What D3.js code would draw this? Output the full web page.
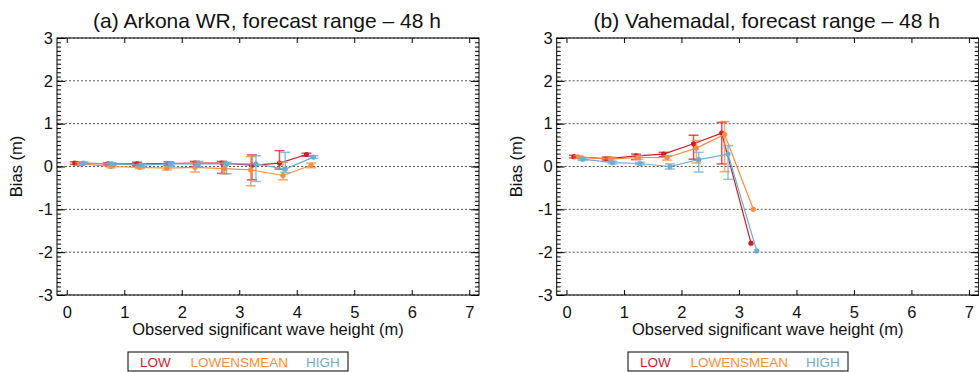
<!DOCTYPE html>
<html lang="en">
<head>
<meta charset="UTF-8">
<script src="https://cdn.jsdelivr.net/npm/d3@7"></script>
<title>Bias vs observed wave height</title>
<style>
  body { margin: 0; background: #fff; }
  svg text { font-family: Arial, "Liberation Sans", sans-serif; fill: #111; }
  .grid line { stroke: #555; stroke-dasharray: 2,2; stroke-width: 1; }
</style>
</head>
<body>
<div id="chart"></div>
<script>
// series and ticks
const seriesNames = ["LOW", "LOWENSMEAN", "HIGH"];
const seriesColors = ["#d01c2a", "#fd8d3c", "#6aaed6"];
const xTicks = [0, 1, 2, 3, 4, 5, 6, 7];
const yTicks = [-3, -2, -1, 0, 1, 2, 3];
const panelTitles = ["(a) Arkona WR, forecast range \u2013 48 h", "(b) Vahemadal, forecast range \u2013 48 h"];

// (a) Arkona WR
const arkLowX  = [0.14, 0.72, 1.22, 1.77, 2.23, 2.70, 3.22, 3.70, 4.17];
const arkLowY  = [0.08, 0.06, 0.06, 0.07, 0.08, 0.08, 0.03, 0.08, 0.28];
const arkLowLo = [0.05, 0.03, 0.02, 0.03, 0.00, -0.16, -0.31, -0.06, 0.24];
const arkLowHi = [0.11, 0.09, 0.10, 0.11, 0.12, 0.12, 0.27, 0.37, 0.31];

const arkMeanX  = [0.23, 0.77, 1.27, 1.74, 2.23, 2.74, 3.20, 3.76, 4.25];
const arkMeanY  = [0.06, 0.00, -0.02, -0.04, -0.02, -0.05, -0.08, -0.21, 0.03];
const arkMeanLo = [0.03, -0.03, -0.05, -0.08, -0.13, -0.17, -0.45, -0.31, -0.03];
const arkMeanHi = [0.09, 0.03, 0.01, 0.00, 0.08, 0.08, 0.23, 0.10, 0.08];

const arkHighX  = [0.29, 0.78, 1.30, 1.80, 2.29, 2.78, 3.29, 3.80, 4.29];
const arkHighY  = [0.08, 0.06, 0.03, 0.06, 0.06, 0.06, 0.06, -0.06, 0.22];
const arkHighLo = [0.05, 0.03, 0.00, 0.01, -0.01, -0.17, -0.35, -0.14, 0.19];
const arkHighHi = [0.11, 0.09, 0.06, 0.10, 0.12, 0.10, 0.25, 0.33, 0.25];

// (b) Vahemadal
const vahLowX  = [0.13, 0.70, 1.21, 1.69, 2.21, 2.70, 3.21];
const vahLowY  = [0.23, 0.18, 0.25, 0.29, 0.53, 0.78, -1.79];
const vahLowLo = [0.20, 0.15, 0.16, 0.23, 0.17, 0.06, -1.79];
const vahLowHi = [0.26, 0.22, 0.29, 0.33, 0.73, 1.03, -1.79];

const vahMeanX  = [0.21, 0.77, 1.25, 1.75, 2.26, 2.75, 3.25];
const vahMeanY  = [0.22, 0.17, 0.21, 0.21, 0.43, 0.75, -1.00];
const vahMeanLo = [0.19, 0.12, 0.17, 0.15, 0.08, -0.12, -1.00];
const vahMeanHi = [0.25, 0.22, 0.25, 0.25, 0.61, 1.05, -1.00];

const vahHighX  = [0.28, 0.80, 1.28, 1.80, 2.30, 2.81, 3.31];
const vahHighY  = [0.17, 0.09, 0.07, 0.00, 0.16, 0.29, -1.97];
const vahHighLo = [0.14, 0.06, 0.04, -0.06, -0.13, -0.30, -1.97];
const vahHighHi = [0.20, 0.12, 0.10, 0.06, 0.33, 0.49, -1.97];

function pack(xs, ys, los, his) {
  return xs.map((x, i) => ({x: x, y: ys[i], lo: los[i], hi: his[i]}));
}

const panels = [
  {left: 57, right: 479, legendX: 128, series: [
    pack(arkLowX, arkLowY, arkLowLo, arkLowHi),
    pack(arkMeanX, arkMeanY, arkMeanLo, arkMeanHi),
    pack(arkHighX, arkHighY, arkHighLo, arkHighHi)]},
  {left: 556.7, right: 978.7, legendX: 628, series: [
    pack(vahLowX, vahLowY, vahLowLo, vahLowHi),
    pack(vahMeanX, vahMeanY, vahMeanLo, vahMeanHi),
    pack(vahHighX, vahHighY, vahHighLo, vahHighHi)]}
];

const width = 979, height = 372;
const plotTop = 38, plotBottom = 295;
const fontFam = "Arial, 'Liberation Sans', sans-serif";

const svg = d3.select("#chart").append("svg")
  .attr("width", width).attr("height", height);

const yScale = d3.scaleLinear().domain([-3, 3]).range([plotBottom, plotTop]);

panels.forEach(function(p, pi) {
  const xScale = d3.scaleLinear().domain([-0.17, 7.17]).range([p.left, p.right]);
  const g = svg.append("g");

  // dotted grid
  g.append("g").attr("class", "grid")
    .selectAll("line").data(yTicks).enter().append("line")
    .attr("x1", p.left).attr("x2", p.right)
    .attr("y1", d => yScale(d)).attr("y2", d => yScale(d));

  // axes: bottom/top major ticks, left/right with minor ticks
  const minor = d3.range(-30, 31).map(d => d / 10);
  g.append("g").attr("transform", `translate(0,${plotBottom})`)
    .call(d3.axisBottom(xScale).tickValues(xTicks).tickSizeInner(-5).tickSizeOuter(0).tickPadding(11).tickFormat(d => String(d)))
    .call(a => a.select(".domain").remove())
    .call(a => a.selectAll("text").attr("font-size", 16.5).attr("font-family", fontFam).attr("fill", "#111"));
  g.append("g").attr("transform", `translate(0,${plotTop})`)
    .call(d3.axisTop(xScale).tickValues(xTicks).tickSizeInner(-5).tickSizeOuter(0).tickFormat(""))
    .call(a => a.select(".domain").remove());
  g.append("g").attr("transform", `translate(${p.left},0)`)
    .call(d3.axisLeft(yScale).tickValues(minor).tickSizeInner(-4).tickSizeOuter(0).tickFormat(""))
    .call(a => a.select(".domain").remove());
  g.append("g").attr("transform", `translate(${p.left},0)`)
    .call(d3.axisLeft(yScale).tickValues(yTicks).tickSizeInner(-8).tickSizeOuter(0).tickPadding(4).tickFormat(d => String(d)))
    .call(a => a.select(".domain").remove())
    .call(a => a.selectAll("text").attr("font-size", 16.5).attr("font-family", fontFam).attr("fill", "#111"));
  g.append("g").attr("transform", `translate(${p.right},0)`)
    .call(d3.axisRight(yScale).tickValues(minor).tickSizeInner(-4).tickSizeOuter(0).tickFormat(""))
    .call(a => a.select(".domain").remove());
  g.append("g").attr("transform", `translate(${p.right},0)`)
    .call(d3.axisRight(yScale).tickValues(yTicks).tickSizeInner(-8).tickSizeOuter(0).tickFormat(""))
    .call(a => a.select(".domain").remove());

  g.append("rect")
    .attr("x", p.left).attr("y", plotTop)
    .attr("width", p.right - p.left).attr("height", plotBottom - plotTop)
    .attr("fill", "none").attr("stroke", "#000").attr("stroke-width", 1);

  // series
  p.series.forEach(function(data, si) {
    const col = seriesColors[si];
    const s = g.append("g");
    const bars = data.filter(d => d.hi - d.lo > 0.001);
    s.selectAll(".eb").data(bars).enter().append("line")
      .attr("x1", d => xScale(d.x)).attr("x2", d => xScale(d.x))
      .attr("y1", d => yScale(d.lo)).attr("y2", d => yScale(d.hi))
      .attr("stroke", col).attr("stroke-width", 1.5).attr("opacity", 0.75);
    ["lo", "hi"].forEach(function(k) {
      s.selectAll(".cap-" + k).data(bars).enter().append("line")
        .attr("x1", d => xScale(d.x) - 5).attr("x2", d => xScale(d.x) + 5)
        .attr("y1", d => yScale(d[k])).attr("y2", d => yScale(d[k]))
        .attr("stroke", col).attr("stroke-width", 1.5).attr("opacity", 0.75);
    });
    s.append("path").datum(data)
      .attr("d", d3.line().x(d => xScale(d.x)).y(d => yScale(d.y)))
      .attr("fill", "none").attr("stroke", col).attr("stroke-width", 1.2);
    s.selectAll("circle").data(data).enter().append("circle")
      .attr("cx", d => xScale(d.x)).attr("cy", d => yScale(d.y))
      .attr("r", 2.6).attr("fill", col);
  });

  // titles
  const cx = (p.left + p.right) / 2;
  g.append("text").attr("x", cx - 1).attr("y", 28)
    .attr("text-anchor", "middle").attr("font-size", 21).text(panelTitles[pi]);
  g.append("text").attr("x", cx).attr("y", 335)
    .attr("text-anchor", "middle").attr("font-size", 16.5).text("Observed significant wave height (m)");
  g.append("text")
    .attr("transform", `translate(${p.left - 35},${(plotTop + plotBottom) / 2}) rotate(-90)`)
    .attr("text-anchor", "middle").attr("font-size", 16.5).text("Bias (m)");

  // legend
  const lg = g.append("g").attr("transform", `translate(${p.legendX},352)`);
  lg.append("rect").attr("width", 220).attr("height", 19)
    .attr("fill", "none").attr("stroke", "#000").attr("stroke-width", 1);
  const offs = [12, 62.5, 178];
  seriesNames.forEach(function(n, i) {
    lg.append("text").attr("x", offs[i]).attr("y", 15)
      .attr("font-size", 13.5).style("fill", seriesColors[i]).text(n);
  });
});
</script>
</body>
</html>
